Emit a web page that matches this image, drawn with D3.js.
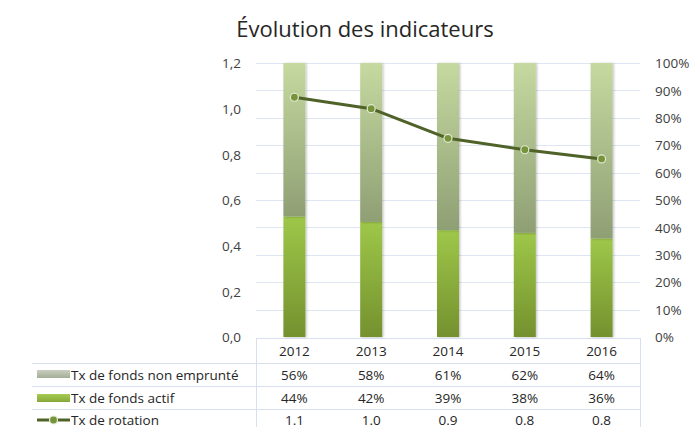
<!DOCTYPE html>
<html>
<head>
<meta charset="utf-8">
<script src="https://cdn.jsdelivr.net/npm/d3@7"></script>
<style>
  body { margin: 0; background: #fff; }
  svg text { font-family: "Open Sans", sans-serif; fill: #404040; }
</style>
</head>
<body>
<div id="chart"></div>
<script>
// data
var years = ["2012", "2013", "2014", "2015", "2016"];
var nonEmprunte = [0.56, 0.58, 0.61, 0.62, 0.64];
var actif = [0.44, 0.42, 0.39, 0.38, 0.36];
var rotation = [1.05, 1.00, 0.87, 0.82, 0.78];
var leftTicks = [0, 0.2, 0.4, 0.6, 0.8, 1.0, 1.2];
var rightTicks = [0, 0.1, 0.2, 0.3, 0.4, 0.5, 0.6, 0.7, 0.8, 0.9, 1.0];
var seriesNames = ["Tx de fonds non emprunté", "Tx de fonds actif", "Tx de rotation"];

var W = 693, H = 427;
var plotLeft = 256, plotRight = 640, plotTop = 63, plotBottom = 337;

var svg = d3.select("#chart").append("svg")
    .attr("width", W)
    .attr("height", H);

var defs = svg.append("defs");
function grad(id, c1, c2) {
    var g = defs.append("linearGradient").attr("id", id)
        .attr("x1", 0).attr("y1", 0).attr("x2", 0).attr("y2", 1);
    g.append("stop").attr("offset", "0%").attr("stop-color", c1);
    g.append("stop").attr("offset", "100%").attr("stop-color", c2);
}
grad("gNon", "#c5d9a0", "#8f9f74");
grad("gAct", "#9ec749", "#74912e");
grad("gNonLeg", "#c9cfc0", "#a4ad97");
grad("gActLeg", "#a6cc52", "#86a83a");

var shadow = defs.append("filter").attr("id", "shadow")
    .attr("x", "-20%").attr("y", "-5%").attr("width", "150%").attr("height", "110%");
shadow.append("feDropShadow").attr("dx", 1.2).attr("dy", 0.5)
    .attr("stdDeviation", 0.8).attr("flood-color", "#000").attr("flood-opacity", 0.25);

var x = d3.scaleBand().domain(years).range([plotLeft, plotRight]);
var yL = d3.scaleLinear().domain([0, 1.2]).range([plotBottom, plotTop]);
var yR = d3.scaleLinear().domain([0, 1]).range([plotBottom, plotTop]);

var comma = d3.formatLocale({decimal: ",", thousands: " ", grouping: [3], currency: ["", "€"]});

// title
svg.append("text")
    .attr("x", 365).attr("y", 37)
    .attr("text-anchor", "middle")
    .style("font-size", "22px")
    .style("fill", "#262626")
    .text("Évolution des indicateurs");

// gridlines
svg.append("g").selectAll("line")
    .data(rightTicks.filter(function(d){ return d > 0; }))
    .enter().append("line")
    .attr("x1", plotLeft).attr("x2", plotRight)
    .attr("y1", function(d){ return Math.round(yR(d)) + 0.5; })
    .attr("y2", function(d){ return Math.round(yR(d)) + 0.5; })
    .attr("stroke", "#dde6f2").attr("stroke-width", 1);

// left axis
var axL = svg.append("g")
    .attr("transform", "translate(" + (plotLeft - 15) + ",0)")
    .call(d3.axisLeft(yL).tickValues(leftTicks).tickFormat(comma.format(".1f")).tickSize(0).tickPadding(0));
axL.select(".domain").remove();
axL.selectAll("text").style("font-size", "13.5px").attr("dy", "0.35em");

// right axis
var axR = svg.append("g")
    .attr("transform", "translate(" + (plotRight + 15) + ",0)")
    .call(d3.axisRight(yR).tickValues(rightTicks).tickFormat(d3.format(".0%")).tickSize(0).tickPadding(0));
axR.select(".domain").remove();
axR.selectAll("text").style("font-size", "13.5px").attr("dy", "0.35em");

// stacked bars (right axis)
var bw = 22;
var bars = svg.append("g");
bars.selectAll(".act").data(years).enter().append("rect")
    .attr("x", function(d){ return x(d) + x.bandwidth() / 2 - bw / 2; })
    .attr("y", function(d, i){ return yR(actif[i]); })
    .attr("width", bw)
    .attr("height", function(d, i){ return yR(0) - yR(actif[i]); })
    .attr("fill", "url(#gAct)")
    .attr("filter", "url(#shadow)");
bars.selectAll(".non").data(years).enter().append("rect")
    .attr("x", function(d){ return x(d) + x.bandwidth() / 2 - bw / 2; })
    .attr("y", function(d, i){ return yR(actif[i] + nonEmprunte[i]); })
    .attr("width", bw)
    .attr("height", function(d, i){ return yR(actif[i]) - yR(actif[i] + nonEmprunte[i]); })
    .attr("fill", "url(#gNon)")
    .attr("filter", "url(#shadow)");

// line (left axis)
var line = d3.line()
    .x(function(d, i){ return x(years[i]) + x.bandwidth() / 2; })
    .y(function(d){ return yL(d); });
svg.append("path").datum(rotation)
    .attr("d", line)
    .attr("fill", "none")
    .attr("stroke", "#4f6228")
    .attr("stroke-width", 3)
    .attr("stroke-linejoin", "round");
svg.selectAll(".dot").data(rotation).enter().append("circle")
    .attr("cx", function(d, i){ return x(years[i]) + x.bandwidth() / 2; })
    .attr("cy", function(d){ return yL(d); })
    .attr("r", 4)
    .attr("fill", "#77933c")
    .attr("stroke", "#e2ebd0")
    .attr("stroke-width", 1.2);

// data table
var rowMid = [351, 375, 398, 420];
var tbl = svg.append("g");
var gridC = "#d6e0ee";
tbl.append("line").attr("x1", plotLeft).attr("x2", plotRight).attr("y1", 338.5).attr("y2", 338.5).attr("stroke", gridC);
[363, 386, 409].forEach(function(y){
    tbl.append("line").attr("x1", 32).attr("x2", plotRight).attr("y1", y + 0.5).attr("y2", y + 0.5).attr("stroke", gridC);
});
tbl.append("line").attr("x1", plotLeft + 0.5).attr("x2", plotLeft + 0.5).attr("y1", 338).attr("y2", H).attr("stroke", gridC);
tbl.append("line").attr("x1", plotRight + 0.5).attr("x2", plotRight + 0.5).attr("y1", 338).attr("y2", H).attr("stroke", gridC);

var pct = d3.format(".0%");
var rows = [
    years,
    nonEmprunte.map(pct),
    actif.map(pct),
    rotation.map(d3.format(".1f"))
];
rows.forEach(function(r, j){
    tbl.selectAll(".c" + j).data(r).enter().append("text")
        .attr("x", function(d, i){ return x(years[i]) + x.bandwidth() / 2; })
        .attr("y", rowMid[j])
        .attr("dy", "0.35em")
        .attr("text-anchor", "middle")
        .style("font-size", "13.5px")
        .style("fill", "#262626")
        .text(function(d){ return d; });
});

// legend keys + names
var legX = 37;
tbl.append("rect").attr("x", legX).attr("y", 370).attr("width", 33).attr("height", 8).attr("fill", "url(#gNonLeg)");
tbl.append("rect").attr("x", legX).attr("y", 394).attr("width", 33).attr("height", 8).attr("fill", "url(#gActLeg)");
tbl.append("line").attr("x1", legX).attr("x2", legX + 33).attr("y1", 420).attr("y2", 420)
    .attr("stroke", "#4f6228").attr("stroke-width", 3);
tbl.append("circle").attr("cx", legX + 16.5).attr("cy", 420).attr("r", 4)
    .attr("fill", "#77933c").attr("stroke", "#e2ebd0").attr("stroke-width", 1.2);
tbl.selectAll(".leg").data(seriesNames).enter().append("text")
    .attr("x", 71)
    .attr("y", function(d, i){ return rowMid[i + 1]; })
    .attr("dy", "0.35em")
    .style("font-size", "13.5px")
    .style("fill", "#262626")
    .text(function(d){ return d; });
</script>
</body>
</html>
